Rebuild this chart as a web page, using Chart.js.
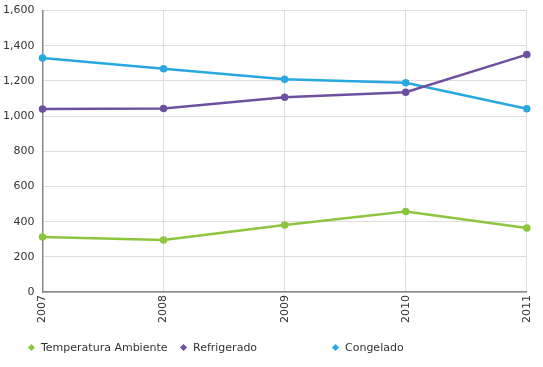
<!DOCTYPE html>
<html>
<head>
<meta charset="utf-8">
<script src="https://cdn.jsdelivr.net/npm/chart.js@4"></script>
<style>
  body { margin: 0; background: #fff; }
  #wrap { position: relative; width: 543px; height: 367px; overflow: hidden; }
  #lineChart { position: absolute; left: 0; top: -4px; }
  #legend { position: absolute; left: 0; top: 341px; width: 543px; font: 11px "DejaVu Sans", Verdana, sans-serif; color: #333; }
  .item { position: absolute; top: 0; white-space: nowrap; }
  .mark { display: inline-block; width: 5px; height: 5px; transform: rotate(45deg); margin-right: 7px; vertical-align: 1px; }
</style>
</head>
<body>
<div id="wrap">
  <canvas id="lineChart" width="543" height="371"></canvas>
  <div id="legend"></div>
</div>
<script>
const years = ['2007', '2008', '2009', '2010', '2011'];
const ambiente = [313, 296, 381, 458, 364];
const refrigerado = [1040, 1043, 1108, 1136, 1350];
const congelado = [1330, 1270, 1210, 1190, 1042];

const seriesNames = ['Temperatura Ambiente', 'Refrigerado', 'Congelado'];
const seriesColors = ['rgb(140, 198, 63)', 'rgb(110, 80, 160)', 'rgb(40, 168, 224)'];
const seriesData = [ambiente, refrigerado, congelado];

const lineChart = document.querySelector('#lineChart');

new Chart(lineChart, {
  type: 'line',
  data: {
    labels: years,
    datasets: seriesNames.map((name, i) => ({
      label: name,
      data: seriesData[i],
      borderColor: seriesColors[i],
      backgroundColor: seriesColors[i],
      borderWidth: 2.5,
      pointRadius: 2.5,
      pointHoverRadius: 3,
      tension: 0
    }))
  },
  options: {
    responsive: false,
    animation: false,
    layout: {
      padding: { left: -5, right: 16, top: 0, bottom: 41 }
    },
    scales: {
      x: {
        offset: false,
        grid: { color: '#dddddd', drawTicks: false },
        border: { color: '#888888', width: 1.5 },
        ticks: {
          color: '#333',
          font: { family: 'DejaVu Sans', size: 11 },
          maxRotation: 90,
          minRotation: 90,
          padding: 3
        }
      },
      y: {
        min: 0,
        max: 1600,
        grid: { color: '#dddddd', drawTicks: false },
        border: { color: '#888888', width: 1.5 },
        ticks: {
          stepSize: 200,
          color: '#333',
          font: { family: 'DejaVu Sans', size: 11 },
          padding: 8,
          callback: v => v.toLocaleString('en-US')
        }
      }
    },
    plugins: {
      legend: { display: false },
      tooltip: { enabled: false }
    }
  }
});

const legend = document.querySelector('#legend');
seriesNames.forEach((name, i) => {
  const item = document.createElement('span');
  item.className = 'item';
  item.style.left = (29 + i * 152) + 'px';
  item.innerHTML = '<span class="mark" style="background:' + seriesColors[i] + '"></span>' + name;
  legend.appendChild(item);
});
</script>
</body>
</html>
